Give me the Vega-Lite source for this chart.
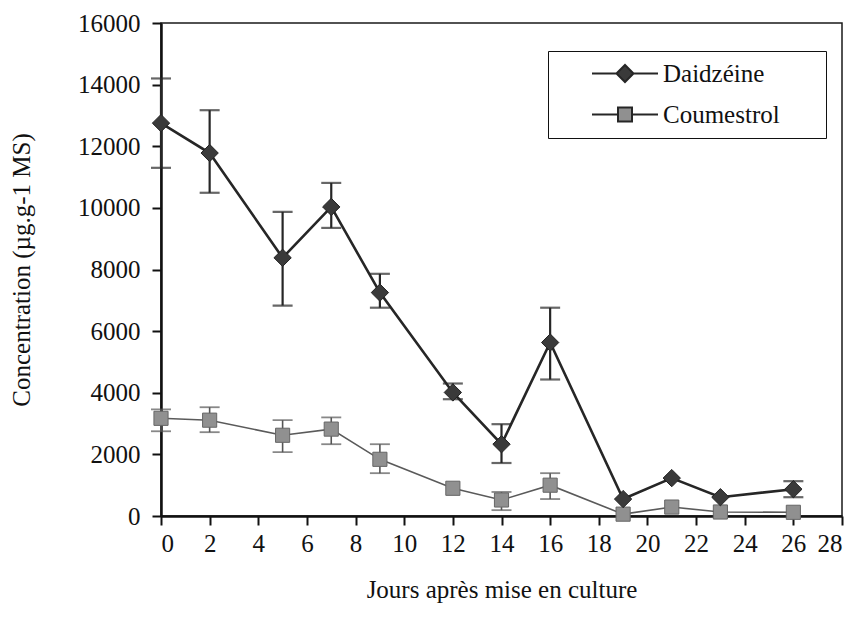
{
  "$schema": "https://vega.github.io/schema/vega-lite/v6.json",
  "width": 681,
  "height": 493,
  "autosize": {"type": "none"},
  "padding": {"left": 161, "top": 23, "right": 19, "bottom": 108},
  "background": "white",
  "config": {
    "font": "Liberation Serif",
    "view": {"stroke": "#1a1a1a", "strokeWidth": 1.5},
    "axis": {
      "labelFont": "Liberation Serif",
      "titleFont": "Liberation Serif",
      "labelFontSize": 25,
      "titleFontSize": 25,
      "titleFontWeight": "normal",
      "labelColor": "#111",
      "titleColor": "#111",
      "domainColor": "#111",
      "domainWidth": 2.5,
      "tickColor": "#111",
      "tickWidth": 2,
      "tickSize": 9,
      "grid": false
    }
  },
  "data": {
    "values": [
      {"day": 0, "compound": "Daidzéine", "value": 12750, "low": 11300, "high": 14200},
      {"day": 2, "compound": "Daidzéine", "value": 11780, "low": 10490, "high": 13170},
      {"day": 5, "compound": "Daidzéine", "value": 8380, "low": 6830, "high": 9870},
      {"day": 7, "compound": "Daidzéine", "value": 10030, "low": 9350, "high": 10810},
      {"day": 9, "compound": "Daidzéine", "value": 7250, "low": 6760, "high": 7860},
      {"day": 12, "compound": "Daidzéine", "value": 4010, "low": 3790, "high": 4300},
      {"day": 14, "compound": "Daidzéine", "value": 2330, "low": 1720, "high": 2980},
      {"day": 16, "compound": "Daidzéine", "value": 5630, "low": 4430, "high": 6760},
      {"day": 19, "compound": "Daidzéine", "value": 550, "low": null, "high": null},
      {"day": 21, "compound": "Daidzéine", "value": 1230, "low": null, "high": null},
      {"day": 23, "compound": "Daidzéine", "value": 610, "low": null, "high": null},
      {"day": 26, "compound": "Daidzéine", "value": 870, "low": 610, "high": 1130},
      {"day": 0, "compound": "Coumestrol", "value": 3170, "low": 2750, "high": 3460},
      {"day": 2, "compound": "Coumestrol", "value": 3110, "low": 2720, "high": 3530},
      {"day": 5, "compound": "Coumestrol", "value": 2620, "low": 2070, "high": 3110},
      {"day": 7, "compound": "Coumestrol", "value": 2820, "low": 2330, "high": 3200},
      {"day": 9, "compound": "Coumestrol", "value": 1840, "low": 1390, "high": 2330},
      {"day": 12, "compound": "Coumestrol", "value": 900, "low": null, "high": null},
      {"day": 14, "compound": "Coumestrol", "value": 520, "low": 190, "high": 780},
      {"day": 16, "compound": "Coumestrol", "value": 1000, "low": 550, "high": 1390},
      {"day": 19, "compound": "Coumestrol", "value": 60, "low": null, "high": null},
      {"day": 21, "compound": "Coumestrol", "value": 290, "low": null, "high": null},
      {"day": 23, "compound": "Coumestrol", "value": 130, "low": null, "high": null},
      {"day": 26, "compound": "Coumestrol", "value": 120, "low": null, "high": null}
    ]
  },
  "encoding": {
    "x": {
      "field": "day",
      "type": "quantitative",
      "scale": {"domain": [0, 28], "nice": false},
      "axis": {
        "title": "Jours après mise en culture",
        "values": [0, 2, 4, 6, 8, 10, 12, 14, 16, 18, 20, 22, 24, 26, 28],
        "format": "d",
        "labelPadding": 6,
        "titlePadding": 21
      }
    },
    "y": {
      "field": "value",
      "type": "quantitative",
      "scale": {"domain": [0, 16000], "nice": false},
      "axis": {
        "title": "Concentration (µg.g-1 MS)",
        "values": [0, 2000, 4000, 6000, 8000, 10000, 12000, 14000, 16000],
        "format": "d",
        "labelPadding": 12,
        "titlePadding": 43
      }
    }
  },
  "layer": [
    {
      "transform": [{"filter": "datum.compound === 'Coumestrol'"}],
      "mark": {"type": "line", "color": "#5a5a5a", "strokeWidth": 1.6}
    },
    {
      "transform": [{"filter": "datum.compound === 'Daidzéine'"}],
      "mark": {"type": "line", "color": "#262626", "strokeWidth": 2.6}
    },
    {
      "transform": [{"filter": "datum.compound === 'Coumestrol' && isValid(datum.low)"}],
      "mark": {"type": "rule", "color": "#555", "strokeWidth": 1.6},
      "encoding": {"y": {"field": "low", "type": "quantitative"}, "y2": {"field": "high"}}
    },
    {
      "transform": [{"filter": "datum.compound === 'Coumestrol' && isValid(datum.low)"}],
      "mark": {"type": "tick", "orient": "horizontal", "size": 20, "thickness": 1.8, "color": "#555"},
      "encoding": {"y": {"field": "low", "type": "quantitative"}}
    },
    {
      "transform": [{"filter": "datum.compound === 'Coumestrol' && isValid(datum.low)"}],
      "mark": {"type": "tick", "orient": "horizontal", "size": 20, "thickness": 1.8, "color": "#555"},
      "encoding": {"y": {"field": "high", "type": "quantitative"}}
    },
    {
      "transform": [{"filter": "datum.compound === 'Daidzéine' && isValid(datum.low)"}],
      "mark": {"type": "rule", "color": "#262626", "strokeWidth": 2.2},
      "encoding": {"y": {"field": "low", "type": "quantitative"}, "y2": {"field": "high"}}
    },
    {
      "transform": [{"filter": "datum.compound === 'Daidzéine' && isValid(datum.low)"}],
      "mark": {"type": "tick", "orient": "horizontal", "size": 20, "thickness": 2.2, "color": "#262626"},
      "encoding": {"y": {"field": "low", "type": "quantitative"}}
    },
    {
      "transform": [{"filter": "datum.compound === 'Daidzéine' && isValid(datum.low)"}],
      "mark": {"type": "tick", "orient": "horizontal", "size": 20, "thickness": 2.2, "color": "#262626"},
      "encoding": {"y": {"field": "high", "type": "quantitative"}}
    },
    {
      "transform": [{"filter": "datum.compound === 'Coumestrol'"}],
      "mark": {"type": "point", "shape": "square", "filled": true, "size": 200, "fill": "#909090", "stroke": "#666666", "strokeWidth": 1, "opacity": 1}
    },
    {
      "transform": [{"filter": "datum.compound === 'Daidzéine'"}],
      "mark": {"type": "point", "shape": "diamond", "filled": true, "size": 300, "fill": "#3a3a3a", "stroke": "#222222", "strokeWidth": 1, "opacity": 1}
    },
    {
      "transform": [{"filter": "false"}],
      "mark": {"type": "point", "filled": true, "stroke": "#262626", "strokeWidth": 2, "opacity": 1},
      "encoding": {
        "shape": {
          "field": "compound",
          "type": "nominal",
          "scale": {
            "domain": ["Daidzéine", "Coumestrol"],
            "range": [
              "M-3.3,0H-0.85M0.85,0H3.3M-0.85,0L0,-0.85L0.85,0L0,0.85Z",
              "M-3.3,0H-0.7M0.7,0H3.3M-0.7,-0.7H0.7V0.7H-0.7Z"
            ]
          },
          "legend": {
            "title": null,
            "orient": "none",
            "legendX": 387,
            "legendY": 28,
            "strokeColor": "#111",
            "fillColor": "white",
            "padding": 10,
            "labelFont": "Liberation Serif",
            "labelFontSize": 25,
            "labelColor": "#111",
            "symbolSize": 400,
            "symbolStrokeWidth": 2,
            "symbolStrokeColor": "#262626",
            "symbolOffset": 54.5,
            "labelOffset": 25.5,
            "rowPadding": 15,
            "labelExpr": "datum.label + '\u2800\u2800'"
          }
        },
        "color": {
          "field": "compound",
          "type": "nominal",
          "scale": {"domain": ["Daidzéine", "Coumestrol"], "range": ["#3a3a3a", "#909090"]},
          "legend": {
            "title": null,
            "orient": "none",
            "legendX": 387,
            "legendY": 28,
            "strokeColor": "#111",
            "fillColor": "white",
            "padding": 10,
            "labelFont": "Liberation Serif",
            "labelFontSize": 25,
            "labelColor": "#111",
            "symbolSize": 400,
            "symbolStrokeWidth": 2,
            "symbolStrokeColor": "#262626",
            "symbolOffset": 54.5,
            "labelOffset": 25.5,
            "rowPadding": 15,
            "labelExpr": "datum.label + '\u2800\u2800'"
          }
        }
      }
    }
  ]
}
